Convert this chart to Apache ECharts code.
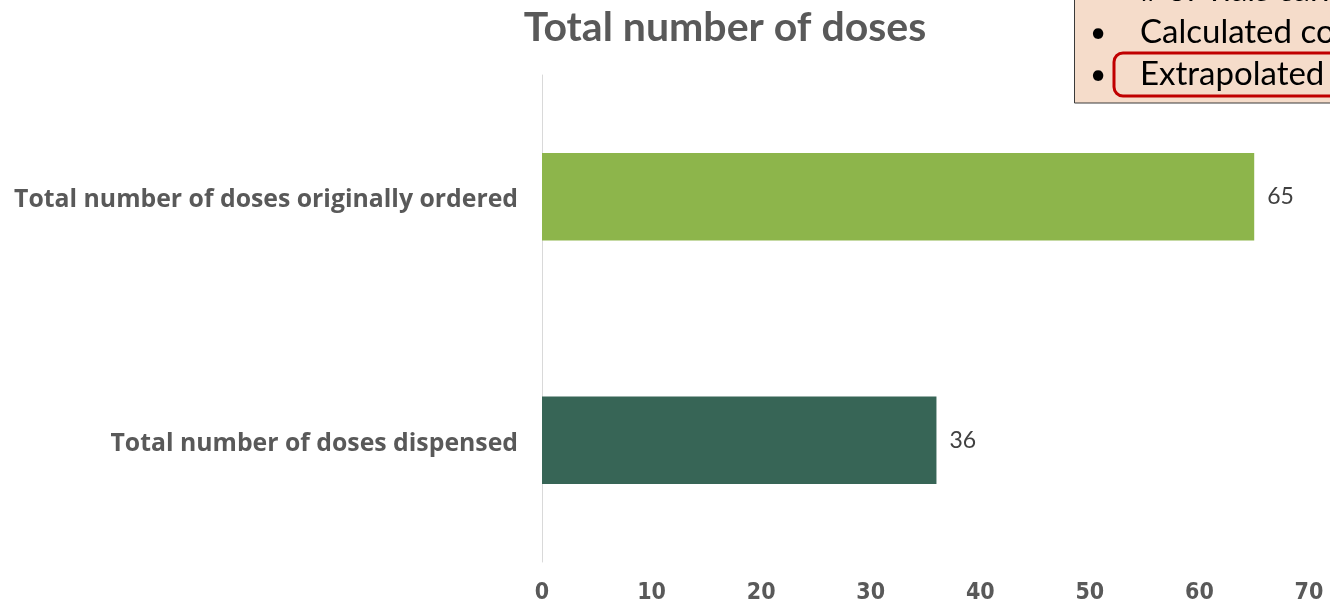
<!DOCTYPE html>
<html>
<head>
<meta charset="utf-8">
<script src="https://cdn.jsdelivr.net/npm/echarts@6/dist/echarts.min.js"></script>
<style>
  html, body { margin: 0; padding: 0; background: #ffffff; }
  #chart { width: 1330px; height: 607px; }
</style>
</head>
<body>
<div id="chart"></div>
<script>
// Category names (bottom to top on the y axis)
const categories = [
  'Total number of doses dispensed',
  'Total number of doses originally ordered'
];
// Dose counts for each category
const doseValues = [36, 65];
// Bar colours per category
const barColors = ['#376556', '#8DB54B'];
// Value axis range and step
const axisMin = 0;
const axisMax = 70;
const axisStep = 10;
// Lines of the note box in the top-right corner
const noteLines = ['# of vials carried', 'Calculated consumption', 'Extrapolated values'];

const textGray = '#595959';
const font = 'Lato, "Open Sans", sans-serif';
const wideFont = '"Open Sans", Lato, sans-serif';
const narrowFont = '"DejaVu Sans Condensed", Lato, sans-serif';

const chart = echarts.init(document.getElementById('chart'));

chart.setOption({
  animation: false,
  backgroundColor: '#ffffff',
  title: {
    text: 'Total number of doses',
    left: 720,
    top: 2,
    textAlign: 'center',
    textStyle: { color: textGray, fontSize: 41, fontWeight: 'bold', fontFamily: font }
  },
  grid: { left: 542, right: 21, top: 75, bottom: 45, containLabel: false },
  xAxis: {
    type: 'value',
    min: axisMin,
    max: axisMax,
    interval: axisStep,
    axisLine: { show: false },
    axisTick: { show: false },
    splitLine: { show: false },
    axisLabel: {
      color: textGray,
      fontSize: 23,
      fontWeight: 'bold',
      fontFamily: narrowFont,
      margin: 20
    }
  },
  yAxis: {
    type: 'category',
    data: categories,
    axisLine: { show: true, lineStyle: { color: '#D9D9D9', width: 1 } },
    axisTick: { show: false },
    axisLabel: {
      margin: 24,
      formatter: (v) => '{c|' + v + '}',
      rich: {
        c: {
          color: textGray,
          fontSize: 24.8,
          fontWeight: 'bold',
          fontFamily: wideFont,
          padding: [7, 0, 0, 0]
        }
      }
    }
  },
  series: [{
    type: 'bar',
    data: doseValues.map((v, i) => ({ value: v, itemStyle: { color: barColors[i] } })),
    barWidth: '36%',
    label: {
      show: true,
      position: 'right',
      distance: 13,
      color: '#404040',
      fontSize: 23,
      fontFamily: font
    }
  }],
  graphic: [
    {
      type: 'rect',
      z: 100,
      shape: { x: 1074.5, y: -10, width: 300, height: 113 },
      style: { fill: '#F5DCCA', stroke: '#3a3a3a', lineWidth: 1 }
    },
    {
      type: 'rect',
      z: 101,
      shape: { x: 1114, y: 53, width: 260, height: 43, r: 9 },
      style: { fill: 'none', stroke: '#C00000', lineWidth: 3 }
    },
    {
      type: 'text',
      z: 102,
      style: { x: 1140, y: -10, text: noteLines[0], fill: '#000', fontSize: 33, fontFamily: font, textVerticalAlign: 'middle' }
    },
    {
      type: 'text',
      z: 102,
      style: { x: 1090, y: 33, text: '•', fill: '#000', fontSize: 28, fontFamily: font, textVerticalAlign: 'middle' }
    },
    {
      type: 'text',
      z: 102,
      style: { x: 1140, y: 32, text: noteLines[1], fill: '#000', fontSize: 33, fontFamily: font, textVerticalAlign: 'middle' }
    },
    {
      type: 'text',
      z: 102,
      style: { x: 1090, y: 75, text: '•', fill: '#000', fontSize: 28, fontFamily: font, textVerticalAlign: 'middle' }
    },
    {
      type: 'text',
      z: 102,
      style: { x: 1140, y: 74, text: noteLines[2], fill: '#000', fontSize: 33, fontFamily: font, textVerticalAlign: 'middle' }
    }
  ]
});
</script>
</body>
</html>
